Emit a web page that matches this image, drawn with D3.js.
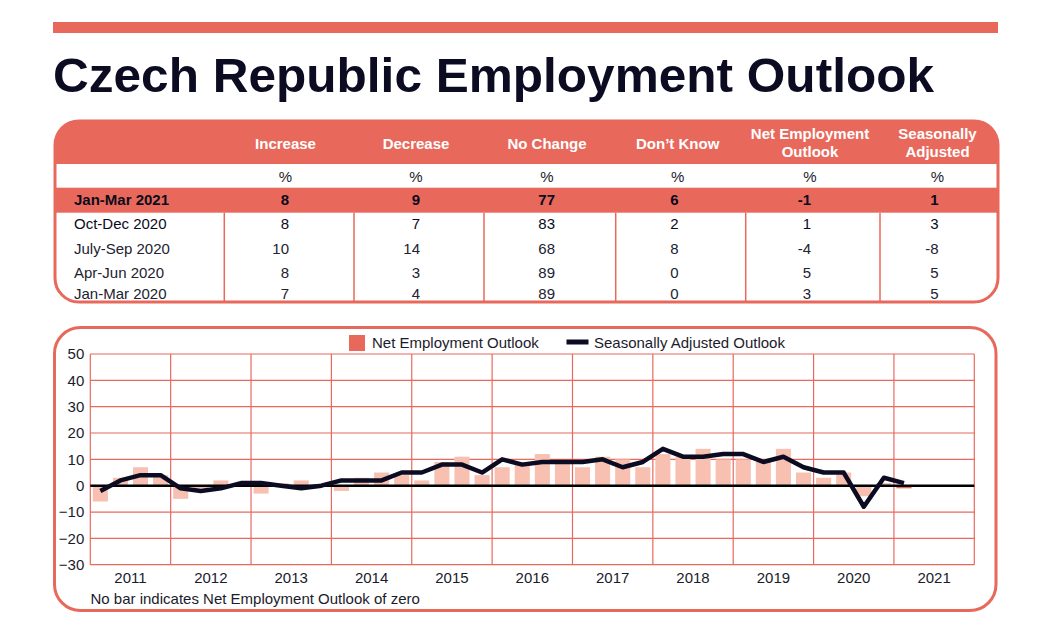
<!DOCTYPE html>
<html><head><meta charset="utf-8">
<script src="https://cdn.jsdelivr.net/npm/d3@7"></script>
<style>
body{margin:0;background:#fff;}
svg{display:block;font-family:"Liberation Sans",Arial,Helvetica,sans-serif;}
</style></head>
<body><svg id="c" width="1055" height="628"></svg>
<script>
// ---------- DATA ----------
const title = "Czech Republic Employment Outlook";
const tableColumns = ["Increase","Decrease","No Change","Don\u2019t Know","Net Employment|Outlook","Seasonally|Adjusted"];
const tableRowLabels = ["Jan-Mar 2021","Oct-Dec 2020","July-Sep 2020","Apr-Jun 2020","Jan-Mar 2020"];
const rowIncrease  = [8, 8, 10, 8, 7];
const rowDecrease  = [9, 7, 14, 3, 4];
const rowNoChange  = [77, 83, 68, 89, 89];
const rowDontKnow  = [6, 2, 8, 0, 0];
const rowNEO       = [-1, 1, -4, 5, 3];
const rowSA        = [1, 3, -8, 5, 5];

const years = ["2011","2012","2013","2014","2015","2016","2017","2018","2019","2020","2021"];
const quarterNames = ["Q1","Q2","Q3","Q4"];
// Net Employment Outlook, 2011 Q1 .. 2021 Q1
const netOutlook = [
  -6, 3, 7, 4,
  -5, -1, 2, 1,
  -3, 1, 2, 0,
  -2, 3, 5, 4,
   2, 9, 11, 4,
   7, 9, 12, 9,
   7, 11, 10, 7,
  12, 11, 14, 10,
  10, 9, 14, 5,
   3, 5, -4, 1,
  -1
];
// Seasonally Adjusted Outlook, 2011 Q1 .. 2021 Q1
const seasonallyAdjusted = [
  -2, 2, 4, 4,
  -1, -2, -1, 1,
   1, 0, -1, 0,
   2, 2, 2, 5,
   5, 8, 8, 5,
  10, 8, 9, 9,
   9, 10, 7, 9,
  14, 11, 11, 12,
  12, 9, 11, 7,
   5, 5, -8, 3,
   1
];
const yTicks = [-30,-20,-10,0,10,20,30,40,50];
const legendLabels = ["Net Employment Outlook","Seasonally Adjusted Outlook"];
const footnote = "No bar indicates Net Employment Outlook of zero";

// ---------- STYLE ----------
const RED = "#e8695c", PALE = "#f7c0b1", INK = "#0b0b22", TXT = "#1b1b2b";
const svg = d3.select("#c");

// top bar + title
svg.append("rect").attr("x",53).attr("y",22).attr("width",945).attr("height",11).attr("fill",RED);
svg.append("text").attr("x",53).attr("y",92).attr("font-size",49).attr("font-weight","bold")
  .attr("fill",INK).attr("textLength",881).attr("lengthAdjust","spacingAndGlyphs").text(title);

// ---------- TABLE ----------
const tL=55, tR=998, tT=121, tB=302, rad=24;
const hdrB=164, pctB=187.7, hiB=212.7;
const colBounds=[224.3,354,484,615.7,745.7,880,tR];
const colCenters=[285.5,416,547,677.7,810,937.5];
const colRight=[289,420,555,678.5,811,938.5];
const rowY=[200,223.3,248.3,272.3,294];

// header fill (rounded top)
svg.append("path").attr("fill",RED).attr("d",
  `M${tL},${hdrB} L${tL},${tT+rad} Q${tL},${tT} ${tL+rad},${tT} L${tR-rad},${tT} Q${tR},${tT} ${tR},${tT+rad} L${tR},${hdrB} Z`);
svg.append("rect").attr("x",tL).attr("y",pctB).attr("width",tR-tL).attr("height",hiB-pctB).attr("fill",RED);
// vertical dividers
svg.selectAll(".vdiv").data(colBounds.slice(0,-1)).join("line")
  .attr("x1",d=>d).attr("x2",d=>d).attr("y1",hiB).attr("y2",tB)
  .attr("stroke",RED).attr("stroke-width",1.5);
// outline
svg.append("rect").attr("x",tL).attr("y",tT).attr("width",tR-tL).attr("height",tB-tT)
  .attr("rx",rad).attr("ry",rad).attr("fill","none").attr("stroke",RED).attr("stroke-width",3);

// headers
tableColumns.forEach((c,i)=>{
  const parts=c.split("|");
  const t=svg.append("text").attr("text-anchor","middle").attr("fill","#fff")
    .attr("font-weight","bold").attr("font-size",15);
  if(parts.length===1){
    t.append("tspan").attr("x",colCenters[i]).attr("y",144).attr("dy","0.35em").text(parts[0]);
  } else {
    t.append("tspan").attr("x",colCenters[i]).attr("y",134).attr("dy","0.35em").text(parts[0]);
    t.append("tspan").attr("x",colCenters[i]).attr("y",152).attr("dy","0.35em").text(parts[1]);
  }
  svg.append("text").attr("x",colCenters[i]).attr("y",176.7).attr("dy","0.35em")
    .attr("text-anchor","middle").attr("font-size",15).attr("fill",TXT).text("%");
});
const cols=[rowIncrease,rowDecrease,rowNoChange,rowDontKnow,rowNEO,rowSA];
tableRowLabels.forEach((lab,r)=>{
  const bold = r===0;
  const fill = r<=1 ? "#0b0b1b" : "#222230";
  svg.append("text").attr("x",74).attr("y",rowY[r]).attr("dy","0.35em").attr("font-size",15)
    .attr("font-weight",bold?"bold":"normal").attr("fill",fill).text(lab);
  cols.forEach((arr,i)=>{
    svg.append("text").attr("x",colRight[i]).attr("y",rowY[r]).attr("dy","0.35em")
      .attr("text-anchor","end").attr("font-size",15)
      .attr("font-weight",bold?"bold":"normal").attr("fill",fill).text(arr[r]);
  });
});

// ---------- CHART ----------
svg.append("rect").attr("x",54.5).attr("y",327.5).attr("width",941.5).attr("height",283)
  .attr("rx",26).attr("ry",26).attr("fill","none").attr("stroke",RED).attr("stroke-width",3);

const pL=90.3, pR=974.3, pT=354, pB=564.7;
const allQuarters=[];
years.forEach(y=>quarterNames.forEach(q=>allQuarters.push(y+" "+q)));
const xQ=d3.scaleBand().domain(allQuarters).range([pL,pR]).paddingInner(0.25).paddingOuter(0.125);
const xY=d3.scaleBand().domain(years).range([pL,pR]);
const y=d3.scaleLinear().domain([-30,50]).range([pB,pT]);

const g=svg.append("g");
// horizontal grid
g.selectAll(".hg").data(yTicks).join("line")
  .attr("x1",pL).attr("x2",pR).attr("y1",d=>y(d)).attr("y2",d=>y(d))
  .attr("stroke",RED).attr("stroke-width",1.2);
// vertical grid at year boundaries
const bounds=years.map(d=>xY(d)).concat([pR]);
g.selectAll(".vg").data(bounds).join("line")
  .attr("x1",d=>d).attr("x2",d=>d).attr("y1",pT).attr("y2",pB)
  .attr("stroke",RED).attr("stroke-width",1.2);

// y axis labels
const yAxis=d3.axisLeft(y).tickValues(yTicks).tickSize(0).tickPadding(6);
const ya=svg.append("g").attr("transform",`translate(${pL},0)`).call(yAxis);
ya.select(".domain").remove();
ya.selectAll("text").attr("font-size",15).attr("fill",TXT).attr("font-family","Liberation Sans, Arial, sans-serif");

// x axis labels
const xAxis=d3.axisBottom(xY).tickSize(0).tickPadding(8);
const xa=svg.append("g").attr("transform",`translate(0,${pB})`).call(xAxis);
xa.select(".domain").remove();
xa.selectAll("text").attr("font-size",15).attr("fill",TXT).attr("font-family","Liberation Sans, Arial, sans-serif");

// bars
const last=netOutlook.length-1;
g.selectAll(".bar").data(netOutlook).join("rect")
  .attr("x",(d,i)=>xQ(allQuarters[i]))
  .attr("width",xQ.bandwidth())
  .attr("y",d=>y(Math.max(0,d)))
  .attr("height",d=>Math.abs(y(d)-y(0)))
  .attr("fill",(d,i)=>i===last?RED:PALE);

// zero line
g.append("line").attr("x1",pL).attr("x2",pR).attr("y1",y(0)).attr("y2",y(0))
  .attr("stroke","#000").attr("stroke-width",2.5);

// SA line
const line=d3.line().x((d,i)=>xQ(allQuarters[i])+xQ.bandwidth()/2).y(d=>y(d));
g.append("path").datum(seasonallyAdjusted).attr("d",line)
  .attr("fill","none").attr("stroke",INK).attr("stroke-width",4.5).attr("stroke-linejoin","round");

// legend
svg.append("rect").attr("x",349).attr("y",335).attr("width",16).attr("height",16).attr("fill",RED);
svg.append("text").attr("x",372).attr("y",343).attr("dy","0.35em").attr("font-size",15).attr("fill",TXT).text(legendLabels[0]);
svg.append("line").attr("x1",566.5).attr("x2",588.5).attr("y1",342).attr("y2",342)
  .attr("stroke",INK).attr("stroke-width",5);
svg.append("text").attr("x",594).attr("y",343).attr("dy","0.35em").attr("font-size",15).attr("fill",TXT).text(legendLabels[1]);

// footnote
svg.append("text").attr("x",90.5).attr("y",599).attr("dy","0.35em").attr("font-size",15).attr("fill",TXT).text(footnote);
</script></body></html>
